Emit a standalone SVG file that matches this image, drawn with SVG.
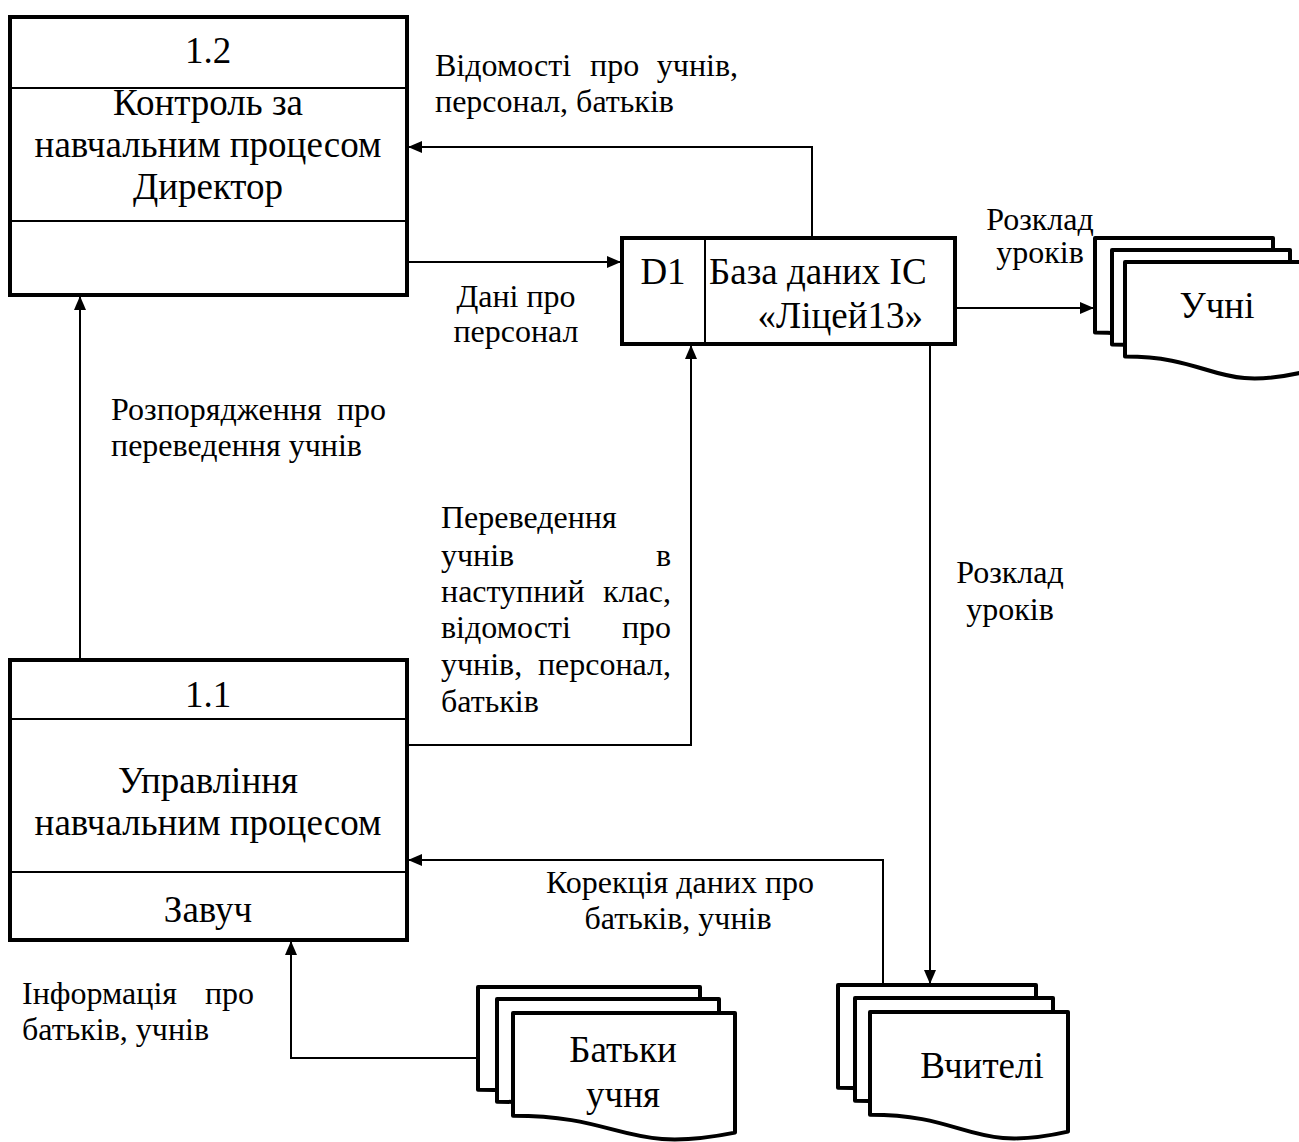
<svg xmlns="http://www.w3.org/2000/svg" width="1299" height="1142" viewBox="0 0 1299 1142">
<style>
text{font-family:"Liberation Serif","Times New Roman",serif;fill:#000}
.bt{font-size:37px;text-anchor:middle}
.lb{font-size:32px}
.box{fill:#fff;stroke:#000;stroke-width:4}
.div{stroke:#000;stroke-width:2}
.doc{fill:#fff;stroke:#000;stroke-width:4;stroke-linejoin:round}
.con{fill:none;stroke:#000;stroke-width:2}
</style>
<defs>
<marker id="ah" markerWidth="14" markerHeight="12" refX="13" refY="6" orient="auto" markerUnits="userSpaceOnUse">
<path d="M0,0 L14,6 L0,12 Z" fill="#000"/>
</marker>
</defs>

<g id="p12">
<rect class="box" x="10" y="17" width="397" height="278"/>
<line class="div" x1="10" y1="88" x2="407" y2="88"/>
<line class="div" x1="10" y1="221" x2="407" y2="221"/>
<text class="bt" x="208" y="63">1.2</text>
<text class="bt" x="208" y="115">Контроль за</text>
<text class="bt" x="208" y="157">навчальним процесом</text>
<text class="bt" x="208" y="199">Директор</text>
</g>

<g id="p11">
<rect class="box" x="10" y="660" width="397" height="280"/>
<line class="div" x1="10" y1="719" x2="407" y2="719"/>
<line class="div" x1="10" y1="872" x2="407" y2="872"/>
<text class="bt" x="208" y="707">1.1</text>
<text class="bt" x="208" y="793">Управління</text>
<text class="bt" x="208" y="835">навчальним процесом</text>
<text class="bt" x="208" y="922">Завуч</text>
</g>

<g id="d1">
<rect class="box" x="622" y="238" width="333" height="106"/>
<line class="div" x1="705" y1="238" x2="705" y2="344"/>
<text class="bt" x="663" y="284">D1</text>
<text class="bt" x="709" y="284" style="text-anchor:start">База даних ІС</text>
<text class="bt" x="923" y="328" style="text-anchor:end">«Ліцей13»</text>
</g>

<g id="uchni">
<path class="doc" d="M1095,238 H1273 V348.2 C1184,368.7 1184,332.6 1095,332.6 Z"/>
<path class="doc" d="M1112,250 H1290 V360.2 C1201,380.7 1201,344.6 1112,344.6 Z"/>
<path class="doc" d="M1125,262 H1303 V372.2 C1214,392.7 1214,356.6 1125,356.6 Z"/>
<text class="bt" x="1217" y="318">Учні</text>
</g>

<g id="batky">
<path class="doc" d="M478,987 H700 V1106.6 C589,1128.8 589,1089.7 478,1089.7 Z"/>
<path class="doc" d="M497,999 H719 V1118.6 C608,1140.8 608,1101.7 497,1101.7 Z"/>
<path class="doc" d="M513,1013 H735 V1132.6 C624,1154.8 624,1115.7 513,1115.7 Z"/>
<text class="bt" x="623" y="1062">Батьки</text>
<text class="bt" x="623" y="1107">учня</text>
</g>

<g id="vchyteli">
<path class="doc" d="M838,985 H1036 V1104.6 C937,1126.8 937,1087.7 838,1087.7 Z"/>
<path class="doc" d="M855,998 H1053 V1117.6 C954,1139.8 954,1100.7 855,1100.7 Z"/>
<path class="doc" d="M870,1012 H1068 V1131.6 C969,1153.8 969,1114.7 870,1114.7 Z"/>
<text class="bt" x="982" y="1078">Вчителі</text>
</g>

<g id="connectors">
<path class="con" d="M80,660 V297" marker-end="url(#ah)"/>
<path class="con" d="M812,238 V147 H409" marker-end="url(#ah)"/>
<path class="con" d="M407,262 H620" marker-end="url(#ah)"/>
<path class="con" d="M407,745 H691 V346" marker-end="url(#ah)"/>
<path class="con" d="M955,308 H1093" marker-end="url(#ah)"/>
<path class="con" d="M930,344 V983" marker-end="url(#ah)"/>
<path class="con" d="M883,985 V860 H409" marker-end="url(#ah)"/>
<path class="con" d="M478,1058 H291 V942" marker-end="url(#ah)"/>
</g>

<g id="labels">
<text class="lb" x="435" y="76">Відомості</text>
<text class="lb" x="590" y="76">про</text>
<text class="lb" x="738" y="76" style="text-anchor:end">учнів,</text>
<text class="lb" x="435" y="112">персонал, батьків</text>

<text class="lb" x="516" y="307" style="text-anchor:middle">Дані про</text>
<text class="lb" x="516" y="342" style="text-anchor:middle">персонал</text>

<text class="lb" x="1040" y="230" style="text-anchor:middle">Розклад</text>
<text class="lb" x="1040" y="263" style="text-anchor:middle">уроків</text>

<text class="lb" x="111" y="420">Розпорядження</text>
<text class="lb" x="386" y="420" style="text-anchor:end">про</text>
<text class="lb" x="111" y="456">переведення учнів</text>

<text class="lb" x="441" y="528">Переведення</text>
<text class="lb" x="441" y="566">учнів</text>
<text class="lb" x="671" y="566" style="text-anchor:end">в</text>
<text class="lb" x="441" y="602">наступний</text>
<text class="lb" x="671" y="602" style="text-anchor:end">клас,</text>
<text class="lb" x="441" y="638">відомості</text>
<text class="lb" x="671" y="638" style="text-anchor:end">про</text>
<text class="lb" x="441" y="675">учнів,</text>
<text class="lb" x="671" y="675" style="text-anchor:end">персонал,</text>
<text class="lb" x="441" y="712">батьків</text>

<text class="lb" x="1010" y="583" style="text-anchor:middle">Розклад</text>
<text class="lb" x="1010" y="620" style="text-anchor:middle">уроків</text>

<text class="lb" x="680" y="893" style="text-anchor:middle">Корекція даних про</text>
<text class="lb" x="678" y="929" style="text-anchor:middle">батьків, учнів</text>

<text class="lb" x="22" y="1004">Інформація</text>
<text class="lb" x="254" y="1004" style="text-anchor:end">про</text>
<text class="lb" x="22" y="1040">батьків, учнів</text>
</g>
</svg>
